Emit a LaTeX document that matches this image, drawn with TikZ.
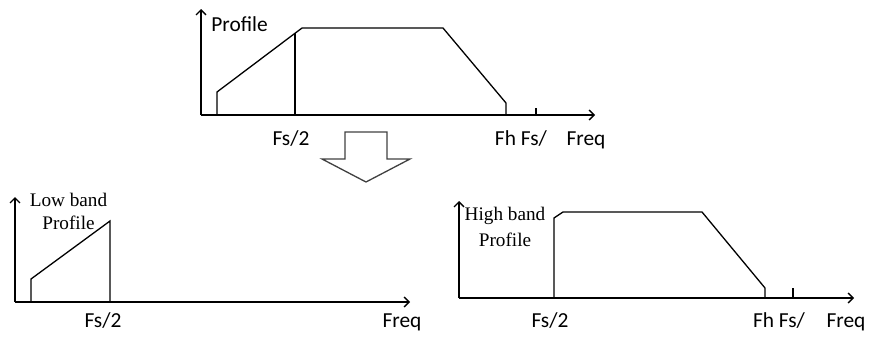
\documentclass[tikz,border=0pt]{standalone}
\usepackage{fontspec}
\setmainfont{Liberation Serif}
\newfontfamily\calib{Carlito}
\usetikzlibrary{arrows.meta,positioning,calc}

\begin{document}
\begin{tikzpicture}[
  x=0.5pt,y=-0.5pt,
  >={Straight Barb[length=2.5pt,width=5pt]},
  axis/.style={->,line width=0.65pt},
  curve/.style={line width=0.65pt,line join=miter},
  lbl/.style={font=\calib\fontsize{10.7}{12}\selectfont,inner sep=0pt,anchor=base},
  ttl/.style={font=\fontsize{9.6}{11.5}\selectfont,inner sep=0pt,anchor=north,align=center}
]
  \useasboundingbox (0,0) rectangle (877,337);

  % full profile (top)
  \coordinate (O1) at (201,115);
  \draw[axis] (O1) -- (595,115) coordinate (X1);
  \draw[axis] (O1) -- (201,9) coordinate (Y1);
  \draw[curve] (217,115) -- (217,92) -- (302,28) -- (443,28) -- (506,103) -- (506,115);
  \draw[curve] (295,115) -- (295,33);
  \draw[curve] (536,108) -- (536,115);
  \node[lbl,anchor=base west] (prof) at (211,32) {Profile};
  \node[lbl] (fs1) at (291,145) {Fs/2};
  \node[lbl] (fh1) at (521,145) {Fh Fs/};
  \node[lbl] (fr1) at (586,145) {Freq};

  % split arrow
  \draw[line width=0.65pt,black!75] (345,132) -- (387,132) -- (387,159) -- (410,159)
    -- (366,182) -- (322,159) -- (345,159) -- cycle;

  % low band (bottom left)
  \coordinate (O2) at (15,302);
  \draw[axis] (O2) -- (410,302) coordinate (X2);
  \draw[axis] (O2) -- (15,197) coordinate (Y2);
  \draw[curve] (31,302) -- (31,279) -- (110,221) -- (110,302);
  \node[ttl] (low) at (68.5,193) {Low band\\Profile};
  \node[lbl] (fs2) at (103,327) {Fs/2};
  \node[lbl] (fr2) at (402,327) {Freq};

  % high band (bottom right)
  \coordinate (O3) at (459,298);
  \draw[axis] (O3) -- (854,298) coordinate (X3);
  \draw[axis] (O3) -- (459,201) coordinate (Y3);
  \draw[curve] (554,298) -- (554,218) -- (563,212) -- (702,212) -- (765,288) -- (765,298);
  \draw[curve] (793,288) -- (793,298);
  \node[ttl,font=\fontsize{9.6}{13}\selectfont] (high) at (505,207) {High band\\Profile};
  \node[lbl] (fs3) at (550,327) {Fs/2};
  \node[lbl] (fh3) at (779,327) {Fh Fs/};
  \node[lbl] (fr3) at (846,327) {Freq};
\end{tikzpicture}
\end{document}
